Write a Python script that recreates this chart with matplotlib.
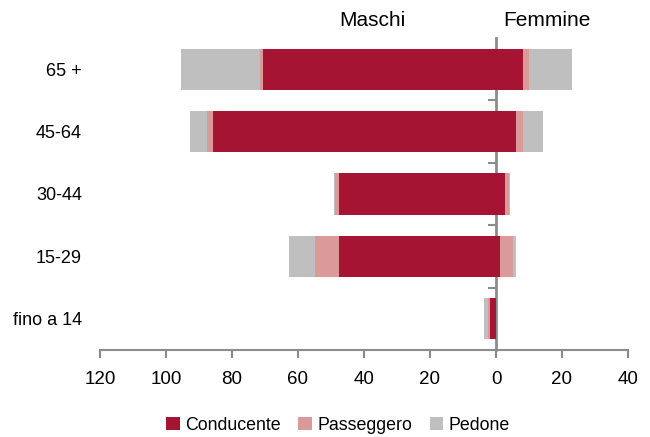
import matplotlib.pyplot as plt
import numpy as np

categories = ["fino a 14", "15-29", "30-44", "45-64", "65 +"]
series = ["Conducente", "Passeggero", "Pedone"]
colors = ["#A51432", "#DA9A9A", "#BFBFBF"]

# Maschi (drawn to the left)
m_conducente = [1.7, 47.6, 47.6, 85.7, 70.6]
m_passeggero = [0.8, 7.1, 1.2, 2.0, 0.9]
m_pedone = [1.2, 8.1, 0.2, 5.1, 24.0]

# Femmine (drawn to the right)
f_conducente = [0.0, 1.2, 2.8, 6.1, 8.3]
f_passeggero = [0.0, 4.0, 1.2, 2.0, 1.8]
f_pedone = [0.0, 0.8, 0.2, 6.1, 13.0]

xticks = [-120, -100, -80, -60, -40, -20, 0, 20, 40]

plt.rcParams["font.family"] = ["Liberation Sans", "DejaVu Sans"]

fig = plt.figure(figsize=(6.5, 4.37), dpi=100)
ax = fig.add_axes([100 / 650, 87 / 437, 528 / 650, 312 / 437])

y = np.arange(len(categories))
h = 0.66

males = [m_conducente, m_passeggero, m_pedone]
females = [f_conducente, f_passeggero, f_pedone]

left_m = np.zeros(len(categories))
left_f = np.zeros(len(categories))
for i in range(3):
    mv = np.array(males[i])
    fv = np.array(females[i])
    ax.barh(y, -mv, left=-left_m, height=h, color=colors[i], label=series[i],
            edgecolor="none")
    ax.barh(y, fv, left=left_f, height=h, color=colors[i], edgecolor="none")
    left_m += mv
    left_f += fv

ax.set_xlim(-120, 40)
ax.set_ylim(-0.5, len(categories) - 0.5)

ax.set_xticks(xticks)
ax.set_xticklabels([str(abs(v)) for v in xticks], fontsize=13.5)
ax.set_yticks(y)
ax.set_yticklabels(categories, fontsize=13)
ax.tick_params(axis="y", length=0, pad=13)
ax.tick_params(axis="x", length=6, width=1.5, color="#8C8C8C", pad=9)

for s in ["left", "right", "top"]:
    ax.spines[s].set_visible(False)
ax.spines["bottom"].set_color("#8C8C8C")
ax.spines["bottom"].set_linewidth(1.5)

# zero axis with ticks at category boundaries
sec = ax.secondary_yaxis(0.75)
sec.set_yticks(np.arange(0.5, len(categories) - 1, 1.0))
sec.set_yticklabels([])
sec.yaxis.set_ticks_position("left")
sec.tick_params(length=6, width=1.5, color="#8C8C8C", direction="out")
for s in ["left", "right"]:
    sec.spines[s].set_color("#8C8C8C")
    sec.spines[s].set_linewidth(2)

fig.text(372 / 650, 1 - 20 / 437, "Maschi", fontsize=15, ha="center", va="center")
fig.text(547 / 650, 1 - 20 / 437, "Femmine", fontsize=15, ha="center", va="center")

ax.legend(loc="center", bbox_to_anchor=(338 / 650, 1 - 425 / 437),
          bbox_transform=fig.transFigure, ncol=3, frameon=False, fontsize=12.8,
          handlelength=0.75, handleheight=0.75, handletextpad=0.3, columnspacing=1.0)

fig.savefig("out.png", dpi=100)
